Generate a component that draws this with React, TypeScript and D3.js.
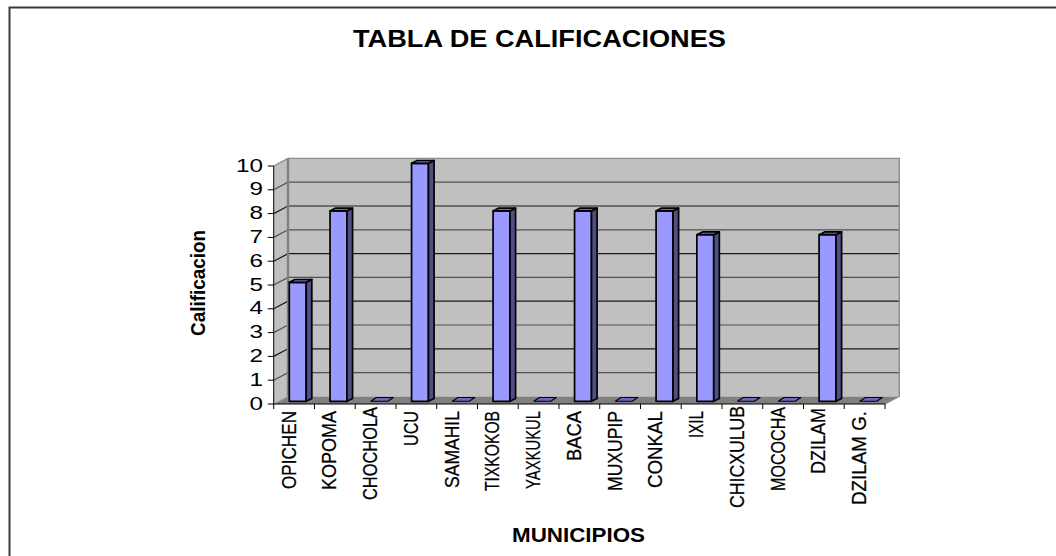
import React from "react";
import * as d3 from "d3";

const municipios = ["OPICHEN","KOPOMA","CHOCHOLA","UCU","SAMAHIL","TIXKOKOB","YAXKUKUL","BACA","MUXUPIP","CONKAL","IXIL","CHICXULUB","MOCOCHA","DZILAM","DZILAM G."];
const calificaciones = [5,8,0,10,0,8,0,8,0,8,7,0,0,7,0];
const labelLengths = [78,79,93,35,77,80,78,50,80,77,27,102,84,66,94];
const yTicks = [0,1,2,3,4,5,6,7,8,9,10];

const W = 1056, H = 556;
const x = d3.scaleBand<string>().domain(municipios).range([273.7, 885]);
const y = d3.scaleLinear().domain([0, 10]).range([404, 166]);
const DX = 14.3, DY = -7.6;
const FONT = "'Liberation Sans', Arial, sans-serif";
const line = d3.line();

export default function App() {
  const back = y(0) + DY, backTop = y(10) + DY;
  const x0 = x.range()[0], x1 = x.range()[1];
  const bw = x.bandwidth();
  return (
    <svg width={W} height={H} style={{ position: "absolute", left: 0, top: 0, background: "#fff" }} fontFamily={FONT}>
      <path d="M9.5 556V7.5H1056" fill="none" stroke="#3a3a3a" strokeWidth={2} />
      <text x={539.5} y={47} textAnchor="middle" fontSize={23.5} fontWeight="bold" textLength={373} lengthAdjust="spacingAndGlyphs">TABLA DE CALIFICACIONES</text>

      {/* walls */}
      <polygon points={`${x0},${y(10)} ${x0 + DX},${backTop} ${x0 + DX},${back} ${x0},${y(0)}`} fill="#c0c0c0" />
      <rect x={x0 + DX} y={backTop} width={x1 - x0} height={back - backTop} fill="#c0c0c0" />
      <polygon points={`${x0},${y(0)} ${x1},${y(0)} ${x1 + DX},${back} ${x0 + DX},${back}`} fill="#808080" />
      {yTicks.slice(1, -1).map(t => (
        <path key={t} d={line([[x0, y(t)], [x0 + DX, y(t) + DY], [x1 + DX, y(t) + DY]])!} fill="none" stroke={t % 2 === 0 ? "#1a1a1a" : "#505050"} strokeWidth={1.2} />
      ))}
      <path d={line([[x0, y(10)], [x0 + DX, backTop], [x1 + DX, backTop], [x1 + DX, back], [x1, y(0)]])!} fill="none" stroke="#8c8c8c" strokeWidth={1.4} />
      <line x1={x0 + DX} x2={x0 + DX} y1={backTop} y2={back} stroke="#808080" strokeWidth={2.4} />
      <line x1={x0} x2={x0 + DX} y1={y(0)} y2={back} stroke="#a0a0a0" strokeWidth={1} />

      {/* bars */}
      {municipios.map((m, i) => {
        const v = calificaciones[i];
        const l = x(m)! + 15.6;
        const bWidth = bw * 0.415;
        const r = l + bWidth;
        const shift = 2.7;
        const base = y(0) - shift;
        const top = y(v) - shift;
        const ddx = 5.6, ddy = v > 0 ? -2.8 : -3.8;
        return (
          <g key={m} stroke="#000" strokeWidth={v > 0 ? 1.7 : 1.1} strokeLinejoin="round">
            {v > 0 && <>
              <rect x={l} y={top} width={bWidth} height={base - top} fill="#9999ff" />
              <polygon points={`${r},${top} ${r + ddx},${top + ddy} ${r + ddx},${base + ddy} ${r},${base}`} fill="#4f4f84" />
            </>}
            <polygon points={`${l},${top} ${r},${top} ${r + ddx},${top + ddy} ${l + ddx},${top + ddy}`} fill="#6a6ac0" />
          </g>
        );
      })}

      {/* axes */}
      <line x1={x0} x2={x0} y1={y(10)} y2={y(0)} stroke="#000" strokeWidth={1} />
      <line x1={x0} x2={x1} y1={y(0)} y2={y(0)} stroke="#000" strokeWidth={1} />
      {yTicks.map(t => (
        <g key={t}>
          <line x1={x0 - 6} x2={x0} y1={y(t)} y2={y(t)} stroke="#000" strokeWidth={1} />
          <text x={263} y={y(t) + 5.5} textAnchor="end" fontSize={18.5} textLength={t === 10 ? 27 : 13.5} lengthAdjust="spacingAndGlyphs">{t}</text>
        </g>
      ))}
      {[...municipios.map(m => x(m)!), x1].map((p, i) => (
        <line key={i} x1={p} x2={p} y1={y(0)} y2={y(0) + 5} stroke="#000" strokeWidth={1} />
      ))}
      {municipios.map((m, i) => {
        const px = x(m)! + 22;
        return (
          <text key={m} transform={`translate(${px},${i === 13 ? 408 : i === 11 ? 406 : i === 12 || i === 2 ? 407 : 411}) rotate(-90)`} textAnchor="end" fontSize={20.5} stroke="#000" strokeWidth={0.25} textLength={labelLengths[i]} lengthAdjust="spacingAndGlyphs">{m}</text>
        );
      })}

      <text transform="translate(205,283) rotate(-90)" textAnchor="middle" fontSize={19.5} fontWeight="bold" textLength={106} lengthAdjust="spacingAndGlyphs">Calificacion</text>
      <text x={578.5} y={542} textAnchor="middle" fontSize={21} fontWeight="bold" textLength={133} lengthAdjust="spacingAndGlyphs">MUNICIPIOS</text>
    </svg>
  );
}
